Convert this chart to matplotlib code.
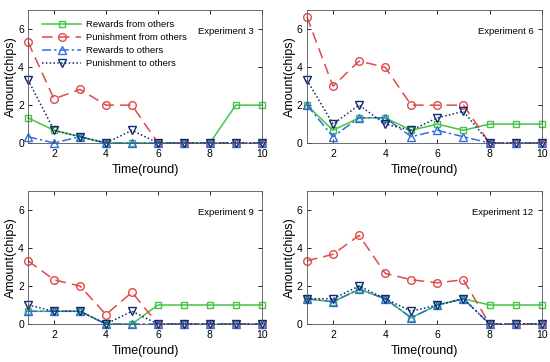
import matplotlib
matplotlib.use("Agg")
import matplotlib.pyplot as plt

plt.rcParams['font.family'] = ['Liberation Sans', 'DejaVu Sans']

rounds = [1, 2, 3, 4, 5, 6, 7, 8, 9, 10]
experiments = ["Experiment 3", "Experiment 6", "Experiment 9", "Experiment 12"]
series_names = ["Rewards from others", "Punishment from others",
                "Rewards to others", "Punishment to others"]

# Experiment 3
e3_rew_from = [1.33, 0.67, 0.33, 0, 0, 0, 0, 0, 2, 2]
e3_pun_from = [5.33, 2.33, 2.83, 2, 2, 0, 0, 0, 0, 0]
e3_rew_to = [0.33, 0, 0.33, 0, 0, 0, 0, 0, 0, 0]
e3_pun_to = [3.33, 0.67, 0.33, 0, 0.67, 0, 0, 0, 0, 0]
# Experiment 6
e6_rew_from = [2, 0.67, 1.33, 1.33, 0.67, 1, 0.67, 1, 1, 1]
e6_pun_from = [6.67, 3, 4.33, 4, 2, 2, 2, 0, 0, 0]
e6_rew_to = [2, 0.33, 1.33, 1.33, 0.33, 0.67, 0.33, 0, 0, 0]
e6_pun_to = [3.33, 1, 2, 1, 0.67, 1.33, 1.67, 0, 0, 0]
# Experiment 9
e9_rew_from = [0.67, 0.67, 0.67, 0, 0, 1, 1, 1, 1, 1]
e9_pun_from = [3.33, 2.33, 2, 0.5, 1.67, 0, 0, 0, 0, 0]
e9_rew_to = [0.67, 0.67, 0.67, 0, 0, 0, 0, 0, 0, 0]
e9_pun_to = [1, 0.67, 0.67, 0, 0.67, 0, 0, 0, 0, 0]
# Experiment 12
e12_rew_from = [1.33, 1.17, 1.83, 1.33, 0.33, 1, 1.33, 1, 1, 1]
e12_pun_from = [3.33, 3.67, 4.67, 2.67, 2.33, 2.17, 2.33, 0, 0, 0]
e12_rew_to = [1.33, 1.17, 1.83, 1.33, 0.33, 1, 1.33, 0, 0, 0]
e12_pun_to = [1.33, 1.33, 2, 1.33, 0.67, 1, 1.33, 0, 0, 0]

data = [
    [e3_rew_from, e3_pun_from, e3_rew_to, e3_pun_to],
    [e6_rew_from, e6_pun_from, e6_rew_to, e6_pun_to],
    [e9_rew_from, e9_pun_from, e9_rew_to, e9_pun_to],
    [e12_rew_from, e12_pun_from, e12_rew_to, e12_pun_to],
]

styles = [
    dict(color='#44c444', linestyle='-', marker='s', markersize=4.5),
    dict(color='#e04a4a', linestyle=(0, (7, 4)), marker='o', markersize=5.5),
    dict(color='#2f6fe0', linestyle=(0, (6, 2, 1.5, 2)), marker='^', markersize=5.5),
    dict(color='#102a6e', linestyle=(0, (1, 1.5)), marker='v', markersize=5.5),
]

fig = plt.figure(figsize=(5.5, 3.62), dpi=100)
positions = [
    (0.051, 0.605, 0.425, 0.366),
    (0.558, 0.605, 0.427, 0.366),
    (0.051, 0.105, 0.425, 0.367),
    (0.558, 0.105, 0.427, 0.367),
]

for i, pos in enumerate(positions):
    ax = fig.add_axes(pos)
    for j, vals in enumerate(data[i]):
        ax.plot(rounds, vals, linewidth=1.1, markerfacecolor='none',
                markeredgewidth=1.0, label=series_names[j], clip_on=False,
                **styles[j])
    ax.set_xlim(1, 10)
    ax.set_ylim(0, 7)
    ax.set_xticks([2, 4, 6, 8, 10])
    ax.set_yticks([0, 2, 4, 6])
    ax.tick_params(direction='in', labelsize=7.5, length=3, width=0.6,
                   top=True, right=True)
    ax.tick_params(axis='x', pad=4)
    ax.tick_params(axis='y', pad=3)
    for s in ax.spines.values():
        s.set_linewidth(0.6)
        s.set_color('#555555')
    ax.set_xlabel("Time(round)", fontsize=9, labelpad=4)
    ax.set_ylabel("Amount(chips)", fontsize=9, labelpad=1)
    ax.text(0.965, 0.84, experiments[i], transform=ax.transAxes,
            ha='right', va='center', fontsize=6.8)
    if i == 0:
        ax.legend(loc='upper left', bbox_to_anchor=(0.03, 0.975), frameon=False,
                  fontsize=6.8, handlelength=4.2, labelspacing=0.42,
                  borderaxespad=0.3, handletextpad=0.5)

fig.savefig("out.png", dpi=100)
